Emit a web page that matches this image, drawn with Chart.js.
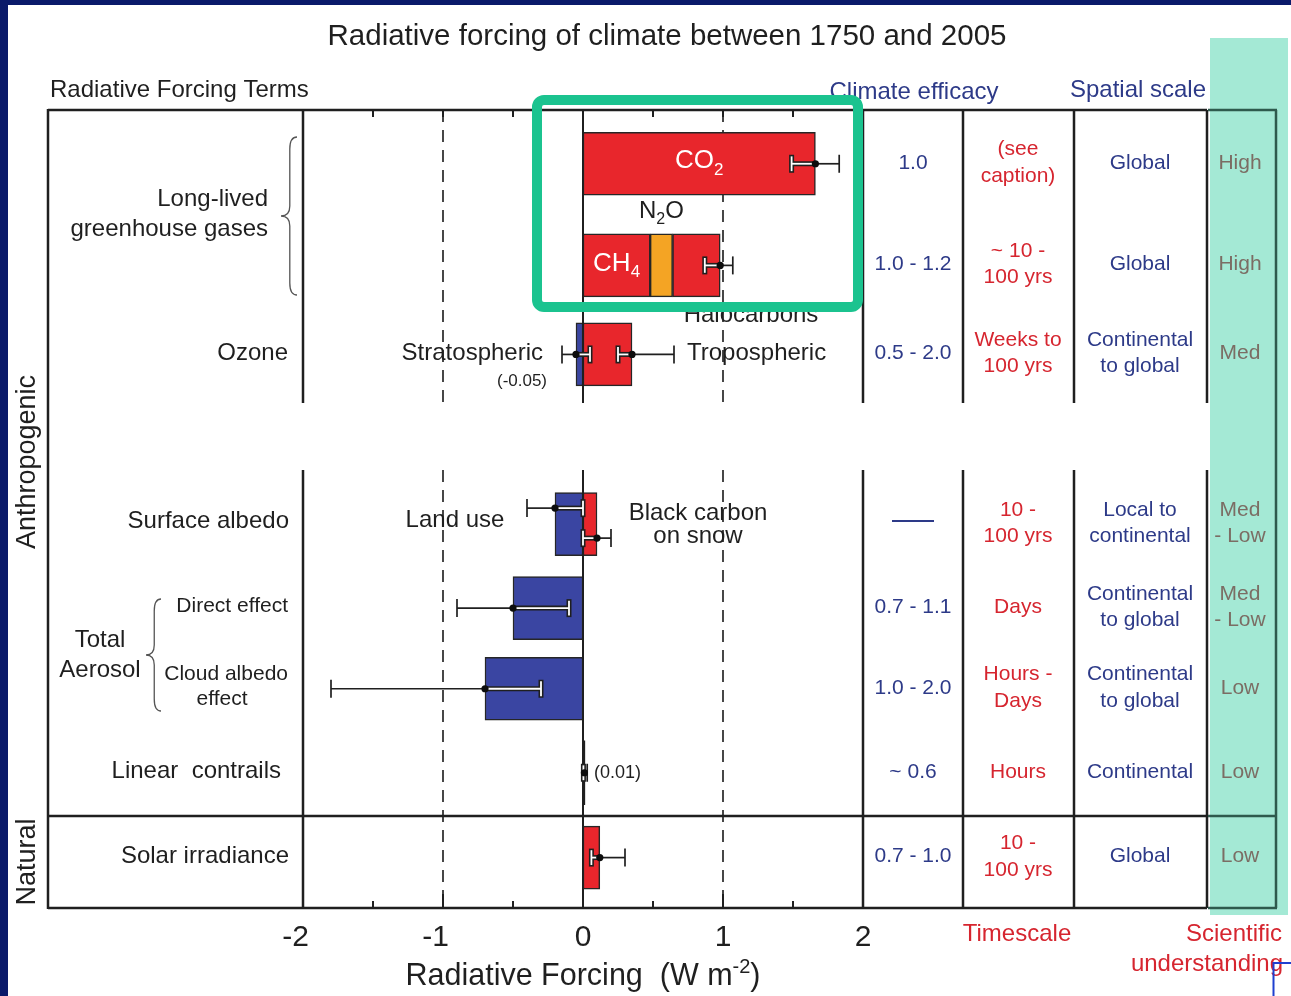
<!DOCTYPE html>
<html>
<head>
<meta charset="utf-8">
<title>Radiative forcing of climate between 1750 and 2005</title>
<script src="https://cdn.jsdelivr.net/npm/chart.js@4.4.1/dist/chart.umd.min.js"></script>
<style>
  html, body { margin: 0; padding: 0; background: #fff; }
  canvas { display: block; }
</style>
</head>
<body>
<canvas id="rf" width="1291" height="996"></canvas>
<script>
// ---------------------------------------------------------------------------
// Data: radiative forcing terms 1750-2005 (W m-2)
// ---------------------------------------------------------------------------
const terms = ['CO2', 'CH4 / N2O / Halocarbons', 'Ozone', 'Surface albedo',
               'Direct effect', 'Cloud albedo effect', 'Linear contrails', 'Solar irradiance'];

// positive (warming) components: CO2, CH4, tropospheric O3, black carbon on snow, contrails, solar
const warming     = [1.66, 0.48, 0.35, 0.10, null, null, 0.01, 0.12];
const n2o         = [null, 0.16, null, null, null, null, null, null];
const halocarbons = [null, 0.34, null, null, null, null, null, null];
// negative (cooling) components: stratospheric O3, land use, aerosol direct, cloud albedo
const cooling     = [null, null, -0.05, -0.20, -0.50, -0.70, null, null];

// uncertainty ranges, one entry per whisker
const errName = ['CO2', 'LLGHG', 'Strat. O3', 'Trop. O3', 'Land use', 'BC on snow', 'Direct', 'Cloud albedo', 'Contrails', 'Solar'];
const errRow  = [0, 1, 2, 2, 3, 3, 4, 5, 6, 7];
const errLow  = [1.49, 0.87, -0.15, 0.25, -0.40, 0.00, -0.90, -1.80, 0.003, 0.06];
const errHigh = [1.83, 1.07,  0.05, 0.65,  0.00, 0.20, -0.10, -0.30, 0.030, 0.30];
const errMid  = [warming[0], warming[1] + n2o[1] + halocarbons[1], cooling[2], warming[2],
                 cooling[3], warming[3], cooling[4], cooling[5], warming[6], warming[7]];

// table columns
const efficacy = ['1.0', '1.0 - 1.2', '0.5 - 2.0', '\u2014\u2014', '0.7 - 1.1', '1.0 - 2.0', '~ 0.6', '0.7 - 1.0'];
const timescale = [['(see', 'caption)'], ['~ 10 -', '100 yrs'], ['Weeks to', '100 yrs'], ['10 -', '100 yrs'],
                   ['Days'], ['Hours -', 'Days'], ['Hours'], ['10 -', '100 yrs']];
const spatial = [['Global'], ['Global'], ['Continental', 'to global'], ['Local to', 'continental'],
                 ['Continental', 'to global'], ['Continental', 'to global'], ['Continental'], ['Global']];
const understanding = [['High'], ['High'], ['Med'], ['Med', '- Low'], ['Med', '- Low'], ['Low'], ['Low'], ['Low']];

const xTicks = [-2, -1, 0, 1, 2];

// ---------------------------------------------------------------------------
// Layout and style
// ---------------------------------------------------------------------------
const rowSlot = [0.64, 1.85, 2.91, 4.93, 5.93, 6.89, 7.89, 8.90];   // row centres on the y axis
const errShift = [0, 0, 0, 0, -16, 14, 0, 0, 0, 0];                   // vertical nudge of whiskers (px)
const FONT = '"Liberation Sans", Arial, Helvetica, sans-serif';
const RED = '#e8262c', BLUE = '#3a45a2', ORANGE = '#f4a424';
const INK = '#1f1f1f', NAVY = '#2d3a88', CRIMSON = '#d6252f', SCI = '#7b6d64', TEALLINE = '#2e5a4d';
const frame = { left: 48, cols: [963, 1074, 1207], right: 1276, gapTop: 403, gapBottom: 470, natural: 816 };
const colCentre = [913, 1018, 1140, 1240];

function bars(values, base) {
  const out = [];
  values.forEach((v, i) => {
    if (v == null) return;
    const b = base ? (base[i] || 0) : 0;
    out.push({ x: [b, b + v], y: rowSlot[i] });
  });
  return out;
}
const ghgBase = warming.map((v, i) => (v || 0) + (n2o[i] || 0));

const barStyle = { barThickness: 63, grouped: false, borderWidth: 1.5, borderColor: '#262626', borderSkipped: false };

// ---------------------------------------------------------------------------
// Drawing helpers
// ---------------------------------------------------------------------------
function font(sz, weight) { return (weight ? weight + ' ' : '') + sz + 'px ' + FONT; }
function txt(ctx, s, x, y, sz, color, align, weight) {
  ctx.font = font(sz, weight);
  ctx.fillStyle = color;
  ctx.textAlign = align || 'center';
  ctx.textBaseline = 'middle';
  ctx.fillText(s, x, y);
}
function lines(ctx, arr, x, y, sz, color, gap, align) {
  const n = arr.length;
  arr.forEach((s, k) => txt(ctx, s, x, y + (k - (n - 1) / 2) * gap, sz, color, align));
}
// formula with sub/superscripts: parts = [[text, 0 | 'sub' | 'sup'], ...]
function formula(ctx, parts, x, y, sz, color, align) {
  const small = Math.round(sz * 0.66);
  let w = 0;
  parts.forEach(p => { ctx.font = font(p[1] ? small : sz); w += ctx.measureText(p[0]).width; });
  let cx = align === 'left' ? x : x - w / 2;
  ctx.fillStyle = color;
  ctx.textAlign = 'left';
  ctx.textBaseline = 'middle';
  parts.forEach(p => {
    ctx.font = font(p[1] ? small : sz);
    const dy = p[1] === 'sub' ? sz * 0.36 : p[1] === 'sup' ? -sz * 0.3 : 0;
    ctx.fillText(p[0], cx, y + dy);
    cx += ctx.measureText(p[0]).width;
  });
}
function seg(ctx, x1, y1, x2, y2) { ctx.beginPath(); ctx.moveTo(x1, y1); ctx.lineTo(x2, y2); ctx.stroke(); }
function vsplit(ctx, x, top, bottom) {   // vertical rule interrupted by the gap band
  seg(ctx, x, top, x, frame.gapTop);
  seg(ctx, x, frame.gapBottom, x, bottom);
}
function brace(ctx, xTip, y1, y2, w) {
  const ym = (y1 + y2) / 2, xm = xTip + w * 0.55, xr = xTip + w;
  ctx.beginPath();
  ctx.moveTo(xr, y1);
  ctx.quadraticCurveTo(xm, y1, xm, y1 + 12);
  ctx.lineTo(xm, ym - 10);
  ctx.quadraticCurveTo(xm, ym, xTip, ym);
  ctx.quadraticCurveTo(xm, ym, xm, ym + 10);
  ctx.lineTo(xm, y2 - 12);
  ctx.quadraticCurveTo(xm, y2, xr, y2);
  ctx.stroke();
}
function whisker(ctx, xs, y, mid, lo, hi) {
  const inner = mid >= 0 ? lo : hi;      // end lying inside the bar
  const outer = mid >= 0 ? hi : lo;
  const m = xs.getPixelForValue(mid), a = xs.getPixelForValue(inner), b = xs.getPixelForValue(outer);
  const h = 9;
  ctx.lineCap = 'butt';
  ctx.strokeStyle = INK; ctx.lineWidth = 1.7;
  seg(ctx, m, y, b, y);
  seg(ctx, b, y - h, b, y + h);
  ctx.lineWidth = 5;
  seg(ctx, m, y, a, y);
  seg(ctx, a, y - h, a, y + h);
  ctx.strokeStyle = '#fff'; ctx.lineWidth = 1.8;
  seg(ctx, m, y, a, y);
  seg(ctx, a, y - h + 1.6, a, y + h - 1.6);
  ctx.beginPath(); ctx.arc(m, y, 3.6, 0, Math.PI * 2);
  ctx.fillStyle = '#0d0d0d'; ctx.fill();
}

// ---------------------------------------------------------------------------
// Plugin: page frame, table, annotations
// ---------------------------------------------------------------------------
const figure = {
  id: 'figure',
  beforeDraw(chart) {
    const ctx = chart.ctx, W = chart.width, H = chart.height;
    ctx.save();
    ctx.fillStyle = '#fff'; ctx.fillRect(0, 0, W, H);
    ctx.fillStyle = '#0a1a6a'; ctx.fillRect(0, 0, W, 5); ctx.fillRect(0, 0, 8, H);
    ctx.fillStyle = '#a4e9d5'; ctx.fillRect(1210, 38, 78, 877);
    ctx.restore();
  },
  beforeDatasetsDraw(chart) {
    const ctx = chart.ctx, xs = chart.scales.x, a = chart.chartArea;
    ctx.save();
    ctx.strokeStyle = '#333'; ctx.lineWidth = 1.8; ctx.setLineDash([12, 8]);
    [-1, 1].forEach(v => vsplit(ctx, xs.getPixelForValue(v), a.top, a.bottom));
    ctx.setLineDash([]);
    ctx.strokeStyle = INK; ctx.lineWidth = 2;
    for (let v = xs.min + 0.5; v < xs.max; v += 0.5) {
      const x = xs.getPixelForValue(v);
      seg(ctx, x, a.top, x, a.top + 7);
      seg(ctx, x, a.bottom, x, a.bottom - (Number.isInteger(v) ? 14 : 7));
    }
    ctx.restore();
  },
  afterDatasetsDraw(chart) {
    const ctx = chart.ctx, xs = chart.scales.x, ys = chart.scales.y, a = chart.chartArea;
    const rowY = i => ys.getPixelForValue(rowSlot[i]);
    ctx.save();

    // hairline bars (e.g. contrails) get a visible outline around their drawn element
    chart.data.datasets.forEach((ds, d) => {
      chart.getDatasetMeta(d).data.forEach(el => {
        const w = Math.abs(el.x - el.base);
        if (w < 3) {
          ctx.strokeStyle = INK; ctx.lineWidth = 1.5;
          ctx.strokeRect(Math.min(el.x, el.base), el.y - el.height / 2, w, el.height);
        }
      });
    });

    // zero line
    ctx.strokeStyle = INK; ctx.lineWidth = 2;
    vsplit(ctx, xs.getPixelForValue(0), a.top, a.bottom);

    // whiskers
    errMid.forEach((m, k) => whisker(ctx, xs, rowY(errRow[k]) + errShift[k], m, errLow[k], errHigh[k]));

    // frame and table rules
    ctx.lineWidth = 2.5; ctx.strokeStyle = INK;
    [a.top, frame.natural, a.bottom].forEach(y => seg(ctx, frame.left, y, frame.cols[2], y));
    seg(ctx, frame.left, a.top - 1, frame.left, a.bottom + 1);
    [a.left, a.right].concat(frame.cols).forEach(x => vsplit(ctx, x, a.top, a.bottom));
    ctx.strokeStyle = TEALLINE;
    [a.top, frame.natural, a.bottom].forEach(y => seg(ctx, frame.cols[2] + 1, y, frame.right + 1, y));
    seg(ctx, frame.right, a.top, frame.right, a.bottom);

    // labels inside the plot
    const ctr = (s, e) => xs.getPixelForValue((s + e) / 2);
    formula(ctx, [['CO', 0], ['2', 'sub']], ctr(0, warming[0]), rowY(0) - 3, 26, '#fff');
    formula(ctx, [['CH', 0], ['4', 'sub']], ctr(0, warming[1]), rowY(1) - 2, 26, '#fff');
    formula(ctx, [['N', 0], ['2', 'sub'], ['O', 0]], ctr(warming[1], ghgBase[1]), 211, 24, INK);
    ctx.font = font(24); ctx.fillStyle = INK; ctx.textAlign = 'center'; ctx.textBaseline = 'alphabetic';
    ctx.fillText('Halocarbons', 751, 322);
    txt(ctx, 'Stratospheric', 543, 353, 24, INK, 'right');
    txt(ctx, '(-0.05)', 522, 381, 17, INK);
    txt(ctx, 'Tropospheric', 687, 353, 24, INK, 'left');
    txt(ctx, 'Land use', 455, 520, 24, INK);
    lines(ctx, ['Black carbon', 'on snow'], 698, 525, 24, INK, 23);
    txt(ctx, '(0.01)', 594, 773, 18, INK, 'left');

    // forcing-term labels
    lines(ctx, ['Long-lived', 'greenhouse gases'], 268, 214, 24, INK, 30, 'right');
    txt(ctx, 'Ozone', 288, 353, 24, INK, 'right');
    txt(ctx, 'Surface albedo', 289, 521, 24, INK, 'right');
    lines(ctx, ['Total', 'Aerosol'], 100, 655, 24, INK, 30);
    txt(ctx, 'Direct effect', 288, 606, 21, INK, 'right');
    txt(ctx, 'Cloud albedo', 288, 674, 21, INK, 'right');
    txt(ctx, 'effect', 222, 699, 21, INK);
    txt(ctx, 'Linear  contrails', 281, 771, 24, INK, 'right');
    txt(ctx, 'Solar irradiance', 289, 856, 24, INK, 'right');
    ctx.strokeStyle = '#555'; ctx.lineWidth = 1.3;
    brace(ctx, 281, 137, 295, 16);
    brace(ctx, 146, 599, 711, 15);

    ctx.save();
    ctx.translate(28, 462); ctx.rotate(-Math.PI / 2);
    txt(ctx, 'Anthropogenic', 0, 0, 27, INK);
    ctx.restore();
    ctx.save();
    ctx.translate(28, 862); ctx.rotate(-Math.PI / 2);
    txt(ctx, 'Natural', 0, 0, 27, INK);
    ctx.restore();

    // table cells
    terms.forEach((t, i) => {
      const y = rowY(i) - 1;
      if (i === 3) txt(ctx, efficacy[i], colCentre[0], y - 3, 21, NAVY, 'center', 'bold');
      else txt(ctx, efficacy[i], colCentre[0], y, 21, NAVY);
      lines(ctx, timescale[i], colCentre[1], y, 21, CRIMSON, 26.5);
      lines(ctx, spatial[i], colCentre[2], y, 21, NAVY, 26.5);
      lines(ctx, understanding[i], colCentre[3], y, 21, SCI, 26.5);
    });

    // headers and captions
    txt(ctx, 'Radiative forcing of climate between 1750 and 2005', 667, 37, 29.5, INK);
    txt(ctx, 'Radiative Forcing Terms', 50, 90, 24, INK, 'left');
    txt(ctx, 'Climate efficacy', 914, 92, 24, NAVY);
    txt(ctx, 'Spatial scale', 1138, 90, 24, NAVY);
    txt(ctx, 'Timescale', 1017, 934, 24, CRIMSON);
    txt(ctx, 'Scientific', 1282, 934, 24, CRIMSON, 'right');
    txt(ctx, 'understanding', 1283, 964, 24, CRIMSON, 'right');
    formula(ctx, [['Radiative Forcing  (W m', 0], ['-2', 'sup'], [')', 0]], 583, 977, 30.5, INK);
    ctx.restore();
  },
  afterDraw(chart) {
    const ctx = chart.ctx;
    ctx.save();
    ctx.strokeStyle = '#1bc38f'; ctx.lineWidth = 10;
    ctx.beginPath(); ctx.roundRect(537, 100, 321, 207, 7); ctx.stroke();
    ctx.strokeStyle = '#1f40d0'; ctx.lineWidth = 2;
    ctx.beginPath(); ctx.moveTo(1291, 963); ctx.lineTo(1273.5, 963); ctx.lineTo(1273.5, 996); ctx.stroke();
    ctx.restore();
  }
};

// ---------------------------------------------------------------------------
// Chart
// ---------------------------------------------------------------------------
const chart = new Chart(document.getElementById('rf'), {
  type: 'bar',
  data: {
    datasets: [
      Object.assign({ label: 'Warming', data: bars(warming), backgroundColor: RED }, barStyle),
      Object.assign({ label: 'N2O', data: bars(n2o, warming), backgroundColor: ORANGE }, barStyle),
      Object.assign({ label: 'Halocarbons', data: bars(halocarbons, ghgBase), backgroundColor: RED }, barStyle),
      Object.assign({ label: 'Cooling', data: bars(cooling), backgroundColor: BLUE }, barStyle)
    ]
  },
  options: {
    indexAxis: 'y',
    responsive: false,
    animation: false,
    events: [],
    layout: { padding: { left: 303, right: 428, top: 110, bottom: 0 } },
    scales: {
      x: {
        type: 'linear', position: 'bottom', min: -2, max: 2,
        afterBuildTicks: s => { s.ticks = xTicks.map(v => ({ value: v })); },
        afterFit: s => { s.height = 88; },
        ticks: {
          font: { family: FONT, size: 30 }, color: INK, padding: 12, maxRotation: 0, autoSkip: false,
          // negative labels sit with the digit over the tick
          callback: v => v < 0 ? v + '\u2002' : String(v)
        },
        grid: { display: false, drawTicks: false },
        border: { display: false }
      },
      y: { type: 'linear', display: false, reverse: true, offset: false, min: 0, max: 9.5 }
    },
    plugins: { legend: { display: false }, tooltip: { enabled: false } }
  },
  plugins: [figure]
});
</script>
</body>
</html>
